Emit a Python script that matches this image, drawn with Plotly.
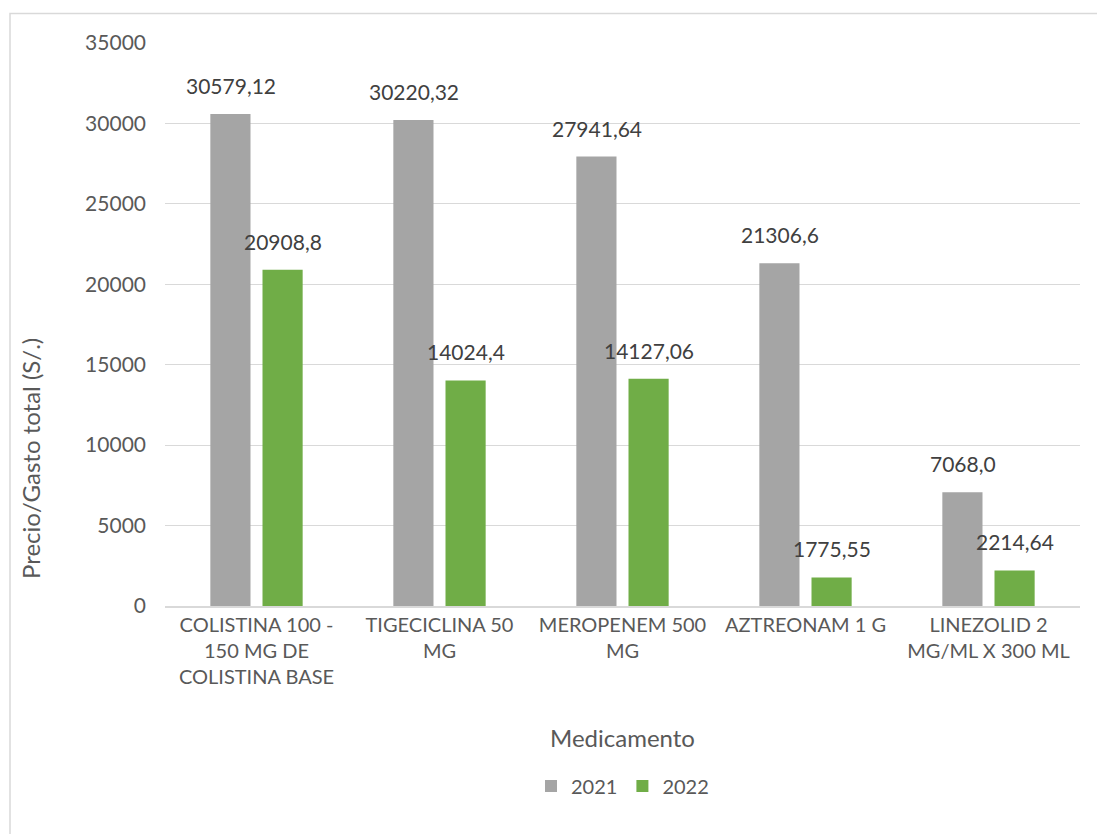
import plotly.graph_objects as go

# Gasto total por medicamento, 2021 frente a 2022
categories = [
    "COLISTINA 100 -<br>150 MG DE<br>COLISTINA BASE",
    "TIGECICLINA 50<br>MG",
    "MEROPENEM 500<br>MG",
    "AZTREONAM 1 G",
    "LINEZOLID 2<br>MG/ML X 300 ML",
]
values_2021 = [30579.12, 30220.32, 27941.64, 21306.6, 7068.0]
values_2022 = [20908.8, 14024.4, 14127.06, 1775.55, 2214.64]
y_ticks = [0, 5000, 10000, 15000, 20000, 25000, 30000, 35000]

FONT = "Lato, Carlito, Calibri, sans-serif"
GRAY = "#A5A5A5"
GREEN = "#70AD47"
GRID = "#D9D9D9"

W, H = 1097, 834
ML, MR, MT, MB = 165, 17, 43, 228
PW, PH = W - ML - MR, H - MT - MB


def fmt(v):
    # decimal comma, as in the labels
    return str(v).replace(".", ",")


def px_to_paper_x(px):
    return (px - ML) / PW


def px_to_paper_y(py):
    return (H - MB - py) / PH


fig = go.Figure()
fig.add_trace(go.Bar(name="2021", x=categories, y=values_2021,
                     marker=dict(color=GRAY, line=dict(width=0))))
fig.add_trace(go.Bar(name="2022", x=categories, y=values_2022,
                     marker=dict(color=GREEN, line=dict(width=0))))

annotations = []
for series, shift in ((values_2021, -26), (values_2022, 26)):
    for cat, v in zip(categories, series):
        annotations.append(dict(
            x=cat, y=v, xref="x", yref="y", text=fmt(v), showarrow=False,
            xanchor="center", yanchor="bottom", xshift=shift, yshift=14,
            font=dict(family=FONT, size=21, color="#404040"),
        ))

# axis titles
annotations.append(dict(
    text="Medicamento", xref="paper", yref="paper",
    x=0.5, y=px_to_paper_y(737), xanchor="center", yanchor="middle",
    showarrow=False, font=dict(family=FONT, size=24, color="#595959"),
))
annotations.append(dict(
    text="Precio/Gasto total (S/.)", xref="paper", yref="paper",
    x=px_to_paper_x(30), y=px_to_paper_y(459), xanchor="center",
    yanchor="middle", textangle=-90, showarrow=False,
    font=dict(family=FONT, size=24, color="#595959"),
))

# chart frame
shapes = [dict(
    type="rect", xref="paper", yref="paper",
    x0=px_to_paper_x(10), x1=px_to_paper_x(W + 5),
    y0=px_to_paper_y(H + 5), y1=px_to_paper_y(13.5),
    line=dict(color=GRID, width=1.5), fillcolor="rgba(0,0,0,0)", layer="below",
)]

fig.update_layout(
    width=W, height=H,
    margin=dict(l=ML, r=MR, t=MT, b=MB, autoexpand=False),
    paper_bgcolor="white", plot_bgcolor="white",
    barmode="group", bargap=0.43, bargroupgap=0.23,
    font=dict(family=FONT, size=20, color="#595959"),
    showlegend=True,
    legend=dict(orientation="h", x=0.5, xanchor="center",
                y=px_to_paper_y(786), yanchor="middle",
                font=dict(family=FONT, size=20, color="#595959"),
                itemwidth=30, traceorder="normal"),
    annotations=annotations,
    shapes=shapes,
)
fig.update_xaxes(
    showgrid=False, showline=True, linecolor=GRID, linewidth=1.5,
    ticks="", tickfont=dict(family=FONT, size=20, color="#595959"),
    fixedrange=True,
)
fig.update_yaxes(
    range=[0, 35000], tickvals=y_ticks, ticktext=[str(t) for t in y_ticks],
    showgrid=True, gridcolor=GRID, gridwidth=1.2, zeroline=False,
    showline=False, ticks="", ticklabelstandoff=18,
    tickfont=dict(family=FONT, size=21, color="#595959"),
    fixedrange=True,
)

fig.write_html("out.html")
